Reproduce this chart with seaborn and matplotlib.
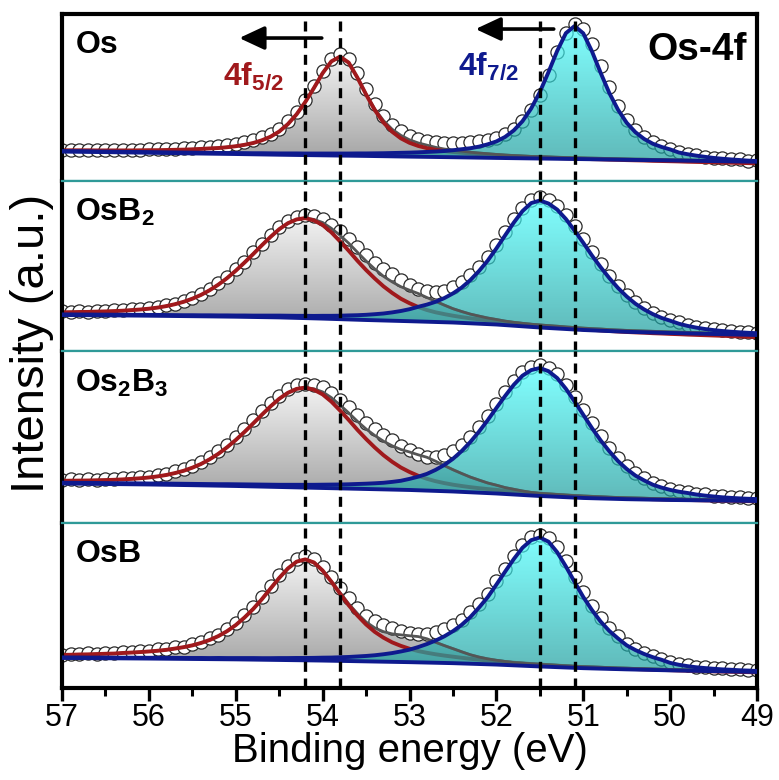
import numpy as np
import matplotlib
matplotlib.use("Agg")
import matplotlib.pyplot as plt
import seaborn as sns
from matplotlib.colors import LinearSegmentedColormap
from matplotlib.patches import Polygon
from matplotlib.ticker import MultipleLocator

# ---------------- data (intensities in arbitrary units) ----------------
energy = np.round(np.arange(570, 489, -1) / 10.0, 1)      # 57.0 ... 49.0 eV (measurement grid)
energy_bg = np.round(np.arange(570, 489, -5) / 10.0, 1)   # background sampling 57.0 ... 49.0

sample_labels = [r"$\mathbf{Os}$", r"$\mathbf{OsB_2}$", r"$\mathbf{Os_2B_3}$", r"$\mathbf{OsB}$"]
shift_lines = [54.2, 53.8, 51.5, 51.1]

# --- Os ---
os_data = [31.0, 31.4, 30.9, 31.3, 31.0, 31.3, 30.8, 31.2, 31.5, 31.1,
           31.6, 31.9, 31.8, 32.4, 32.6, 33.2, 33.8, 34.5, 35.3, 36.2,
           37.4, 39.0, 41.0, 43.6, 47.0, 52.5, 60.0, 69.5, 81.0, 95.0,
           110.5, 122.5, 127.5, 122.0, 108.0, 92.0, 77.0, 65.0, 56.5, 50.0,
           45.5, 42.0, 40.0, 38.6, 37.8, 37.6, 38.3, 38.6, 39.6, 41.0,
           43.5, 47.0, 52.0, 60.0, 71.5, 86.0, 105.7, 128.7, 148.3, 156.8,
           152.0, 137.0, 115.3, 94.0, 75.2, 61.1, 51.0, 43.8, 38.6, 35.0,
           32.0, 29.3, 27.0, 25.6, 24.5, 23.2, 22.9, 21.7, 21.6, 20.5, 20.6]
os_f52 = [30.7, 30.7, 30.7, 30.7, 30.6, 30.6, 30.6, 30.6, 30.6, 30.7,
          30.8, 30.8, 31.0, 31.2, 31.4, 31.7, 32.1, 32.6, 33.0, 33.8,
          34.8, 36.2, 38.0, 40.7, 44.3, 49.5, 56.9, 66.7, 79.0, 93.1,
          107.9, 119.6, 124.4, 118.4, 103.4, 86.5, 71.0, 58.5, 49.3, 42.7,
          38.2, 35.1, 32.9, 31.2, 30.0, 29.1, 28.3, 27.5, 26.8, 26.3,
          25.7, 25.2, 24.9, 24.5, 24.1, 23.8, 23.4, 23.0, 22.7, 22.4,
          22.2, 21.9, 21.7, 21.4, 21.2, 20.9, 20.7, 20.5, 20.2, 20.0,
          19.8, 19.6, 19.3, 19.1, 18.9, 18.7, 18.5, 18.3, 18.1, 17.9, 17.6]
os_f72 = [29.9, 29.8, 29.8, 29.7, 29.5, 29.4, 29.3, 29.2, 29.1, 29.0,
          28.9, 28.8, 28.7, 28.6, 28.5, 28.4, 28.3, 28.2, 28.1, 28.0,
          28.0, 27.9, 27.8, 27.8, 27.7, 27.6, 27.6, 27.6, 27.5, 27.5,
          27.5, 27.5, 27.5, 27.5, 27.6, 27.6, 27.7, 27.8, 28.0, 28.2,
          28.4, 28.7, 29.1, 29.5, 30.0, 30.8, 31.8, 32.8, 34.4, 36.7,
          39.6, 44.1, 50.6, 59.8, 72.5, 89.0, 109.0, 130.2, 147.9, 155.0,
          147.7, 129.7, 108.2, 88.0, 71.3, 58.2, 48.8, 42.1, 37.3, 34.1,
          31.6, 28.5, 26.8, 25.4, 24.2, 23.1, 22.3, 21.6, 21.0, 20.4, 20.0]
os_tail = [30.7, 30.7, 30.7, 30.7, 30.6, 30.6, 30.6, 30.6, 30.6, 30.7,
           30.8, 30.8, 31.0, 31.2, 31.4, 31.7, 32.1, 32.6, 33.0, 33.8,
           34.8, 36.2, 38.0, 40.7, 44.3, 49.5, 56.9, 66.7, 79.0, 93.1,
           107.9, 119.6, 124.4, 118.4, 103.4, 87.0, 72.0, 60.5, 51.8, 45.7,
           41.2, 38.1, 35.9, 33.7, 32.0, 30.9, 29.9, 28.8, 28.0, 27.3,
           26.6, 26.0, 25.5, 25.0, 24.6, 24.4, 24.1, 23.8, 23.5, 23.3,
           23.1, 22.9, 22.7, 22.5, 22.3, 22.1, 21.9, 21.8, 21.6, 21.5,
           21.3, 21.1, 21.0, 20.8, 20.7, 20.5, 20.3, 20.2, 20.0, 19.9, 19.7]
os_bg = [29.5, 28.9, 28.3, 27.6, 27.0, 26.3, 25.7, 25.1, 24.4, 23.8, 23.1, 22.5, 21.9, 21.2, 20.6, 19.9, 19.3]

# --- OsB2 ---
osb2_data = [39.6, 39.2, 39.9, 39.5, 40.3, 40.1, 40.9, 41.0, 41.9, 42.1,
             43.4, 44.0, 46.1, 47.5, 50.5, 53.0, 57.4, 61.6, 67.9, 74.3,
             81.9, 89.4, 98.9, 107.5, 116.4, 123.9, 130.3, 133.9, 135.8, 134.6,
             131.9, 126.3, 119.8, 112.3, 103.9, 95.6, 88.5, 82.0, 77.0, 71.0,
             66.2, 62.0, 59.6, 59.4, 60.5, 64.0, 68.9, 75.6, 84.1, 94.0,
             106.0, 118.9, 131.8, 143.4, 151.3, 153.6, 150.8, 145.0, 136.0, 124.6,
             112.0, 99.0, 86.8, 75.4, 65.0, 56.3, 48.9, 43.1, 38.2, 34.2,
             31.2, 28.6, 25.9, 24.5, 22.7, 21.9, 20.6, 20.3, 19.3, 19.1, 18.3]
osb2_f52 = [38.7, 38.8, 39.0, 39.1, 39.4, 39.6, 39.9, 40.3, 40.9, 41.5,
            42.3, 43.4, 44.9, 46.8, 49.2, 52.3, 56.1, 60.8, 66.4, 72.9,
            80.3, 88.4, 96.9, 105.7, 114.1, 121.8, 127.8, 131.6, 132.9, 130.6,
            126.0, 118.7, 109.7, 100.3, 90.3, 81.0, 72.5, 64.7, 58.1, 52.3,
            47.8, 44.0, 41.0, 38.7, 36.9, 35.3, 33.9, 32.7, 31.7, 30.7,
            29.9, 28.8, 27.9, 27.0, 26.1, 25.3, 24.5, 23.8, 23.1, 22.4,
            21.7, 21.2, 20.6, 20.0, 19.5, 19.0, 18.6, 18.3, 17.8, 17.5,
            17.1, 16.8, 16.4, 16.1, 15.8, 15.5, 15.2, 14.9, 14.5, 14.2, 13.9]
osb2_f72 = [36.6, 36.6, 36.5, 36.5, 36.4, 36.4, 36.3, 36.3, 36.2, 36.2,
            36.1, 36.1, 36.0, 35.9, 35.8, 35.8, 35.7, 35.7, 35.6, 35.6,
            35.5, 35.5, 35.4, 35.4, 35.4, 35.4, 35.3, 35.2, 35.2, 35.1,
            35.2, 35.2, 35.3, 35.6, 35.8, 36.2, 36.8, 37.5, 38.6, 40.0,
            41.8, 44.2, 46.4, 49.2, 52.9, 57.6, 63.4, 70.9, 80.0, 90.4,
            102.6, 115.6, 128.4, 139.9, 147.9, 150.5, 147.5, 141.4, 132.0, 120.4,
            108.2, 95.5, 83.8, 72.9, 63.0, 54.5, 47.3, 41.6, 36.9, 33.1,
            30.3, 27.3, 25.1, 23.4, 22.0, 20.9, 20.0, 19.3, 18.7, 18.2, 17.8]
osb2_tail = [38.7, 38.8, 39.0, 39.1, 39.4, 39.6, 39.9, 40.3, 40.9, 41.5,
             42.3, 43.4, 44.9, 46.8, 49.2, 52.3, 56.1, 60.8, 66.4, 72.9,
             80.3, 88.4, 96.9, 105.7, 114.1, 121.8, 127.8, 131.6, 132.9, 131.6,
             128.5, 122.7, 115.7, 107.8, 98.8, 90.0, 82.0, 74.7, 69.1, 64.3,
             60.8, 57.5, 53.5, 49.7, 45.9, 42.3, 39.5, 36.9, 34.9, 33.0,
             31.5, 29.9, 28.7, 27.7, 26.8, 26.1, 25.4, 24.8, 24.1, 23.5,
             22.9, 22.4, 22.0, 21.4, 21.0, 20.6, 20.3, 20.0, 19.7, 19.4,
             19.1, 18.9, 18.6, 18.4, 18.1, 17.9, 17.6, 17.4, 17.2, 17.0, 16.7]
osb2_bg = [36.0, 35.7, 35.3, 34.8, 34.3, 33.6, 32.4, 31.0, 29.8, 28.5, 26.5, 23.5, 21.0, 19.2, 18.0, 17.0, 16.0]

# --- Os2B3 ---
os2b3_data = [42.6, 43.5, 42.9, 43.7, 43.4, 44.2, 43.9, 44.9, 45.0, 46.1,
              46.3, 48.2, 49.0, 51.6, 53.9, 57.2, 61.0, 66.0, 71.6, 78.4,
              86.0, 94.2, 102.9, 111.5, 120.0, 127.4, 133.5, 137.6, 139.0, 138.3,
              135.5, 130.2, 123.0, 115.8, 107.6, 100.2, 94.0, 88.0, 82.5, 77.0,
              72.6, 68.7, 66.3, 66.4, 68.2, 72.0, 78.3, 86.2, 95.6, 106.5,
              118.5, 130.6, 141.9, 150.8, 156.1, 157.9, 155.0, 148.6, 138.4, 126.0,
              112.9, 99.5, 86.8, 75.3, 65.0, 56.6, 49.6, 44.5, 39.8, 36.9,
              34.4, 32.1, 31.2, 29.2, 28.6, 27.1, 26.8, 25.6, 25.7, 24.7, 24.9]
os2b3_f52 = [42.2, 42.3, 42.4, 42.5, 42.7, 42.9, 43.2, 43.6, 44.1, 44.7,
             45.5, 46.6, 48.0, 49.9, 52.2, 55.3, 59.0, 63.7, 69.2, 75.7,
             83.0, 91.0, 99.5, 108.2, 116.6, 124.2, 130.2, 134.1, 135.4, 133.2,
             128.6, 121.4, 112.5, 103.1, 93.2, 84.0, 75.5, 67.8, 61.2, 55.5,
             51.0, 47.2, 44.2, 41.8, 39.9, 38.3, 37.0, 35.8, 34.8, 33.9,
             33.1, 32.2, 31.5, 30.7, 29.9, 29.3, 28.7, 28.1, 27.5, 27.0,
             26.5, 26.1, 25.7, 25.2, 24.9, 24.6, 24.4, 24.1, 23.8, 23.6,
             23.4, 23.2, 23.0, 22.8, 22.6, 22.5, 22.3, 22.2, 22.0, 21.8, 21.7]
os2b3_f72 = [40.3, 40.2, 40.1, 40.1, 40.0, 39.9, 39.8, 39.8, 39.7, 39.6,
             39.5, 39.5, 39.4, 39.3, 39.2, 39.1, 39.0, 38.9, 38.8, 38.8,
             38.7, 38.6, 38.5, 38.4, 38.3, 38.2, 38.2, 38.2, 38.2, 38.2,
             38.3, 38.4, 38.5, 38.7, 39.0, 39.3, 39.7, 40.2, 41.1, 42.2,
             44.1, 46.3, 49.1, 53.1, 58.0, 64.2, 71.9, 81.0, 91.4, 102.8,
             115.0, 127.0, 138.2, 147.3, 152.9, 155.0, 151.8, 144.9, 134.2, 121.5,
             108.2, 94.9, 82.6, 71.7, 61.9, 54.0, 47.4, 42.6, 38.3, 35.4,
             33.1, 31.3, 30.0, 28.5, 27.4, 26.5, 25.7, 25.1, 24.6, 24.2, 23.9]
os2b3_tail = [42.2, 42.3, 42.4, 42.5, 42.7, 42.9, 43.2, 43.6, 44.1, 44.7,
              45.5, 46.6, 48.0, 49.9, 52.2, 55.3, 59.0, 63.7, 69.2, 75.7,
              83.0, 91.0, 99.5, 108.2, 116.6, 124.2, 130.2, 134.1, 135.4, 134.2,
              131.1, 125.4, 118.0, 110.1, 101.7, 94.0, 87.5, 81.8, 77.2, 73.5,
              71.0, 68.2, 65.7, 61.8, 57.4, 53.3, 49.5, 45.9, 42.9, 40.0,
              37.8, 35.4, 33.7, 32.0, 30.6, 29.6, 29.0, 28.5, 27.9, 27.4,
              26.9, 26.6, 26.2, 25.8, 25.5, 25.2, 25.0, 24.8, 24.5, 24.3,
              24.1, 24.0, 23.8, 23.7, 23.5, 23.4, 23.2, 23.1, 23.0, 22.9, 22.7]
os2b3_bg = [39.5, 39.0, 38.5, 37.8, 37.0, 36.0, 35.0, 34.0, 33.0, 31.5, 29.5, 27.0, 25.0, 23.8, 23.0, 22.5, 22.0]

# --- OsB ---
osb_data = [33.2, 34.2, 33.7, 34.6, 34.1, 35.3, 34.8, 36.1, 35.9, 37.0,
            37.0, 38.6, 38.7, 40.8, 41.4, 44.1, 45.8, 49.6, 52.8, 58.5,
            64.6, 72.5, 81.2, 91.0, 102.0, 112.6, 122.3, 129.2, 131.8, 129.0,
            121.4, 111.2, 100.3, 89.5, 80.2, 72.0, 66.8, 63.2, 60.0, 57.0,
            55.0, 53.7, 54.2, 55.6, 58.6, 62.8, 68.4, 75.5, 84.4, 94.3,
            106.5, 119.3, 131.9, 143.0, 150.7, 153.4, 150.2, 140.6, 127.0, 111.3,
            96.0, 82.0, 69.8, 59.6, 51.5, 44.3, 39.4, 35.2, 32.1, 29.0,
            26.2, 23.8, 22.9, 21.2, 20.9, 19.6, 19.6, 18.6, 18.7, 17.7, 17.9]
osb_f52 = [33.1, 33.2, 33.5, 33.6, 33.9, 34.2, 34.4, 35.0, 35.4, 35.9,
           36.5, 37.2, 38.1, 39.4, 40.8, 42.6, 45.0, 48.0, 51.9, 56.8,
           62.9, 70.4, 78.9, 88.7, 99.4, 110.0, 119.5, 126.3, 128.6, 125.5,
           117.4, 106.3, 94.4, 82.7, 72.5, 63.5, 56.1, 50.3, 45.6, 42.1,
           39.2, 36.9, 35.2, 33.7, 32.4, 31.3, 30.2, 29.2, 28.3, 27.5,
           26.8, 26.0, 25.2, 24.6, 23.9, 23.4, 22.8, 22.3, 21.8, 21.3,
           20.9, 20.5, 20.2, 19.8, 19.5, 19.2, 18.9, 18.6, 18.3, 18.0,
           17.8, 17.5, 17.3, 17.1, 16.9, 16.6, 16.4, 16.2, 16.0, 15.8, 15.6]
osb_f72 = [30.6, 30.5, 30.5, 30.4, 30.4, 30.4, 30.3, 30.3, 30.3, 30.2,
           30.2, 30.2, 30.1, 30.1, 30.0, 30.0, 30.0, 29.9, 30.0, 29.9,
           29.9, 29.9, 29.9, 29.8, 29.8, 29.9, 29.9, 30.0, 30.0, 30.1,
           30.3, 30.4, 30.7, 31.0, 31.5, 32.0, 32.7, 33.7, 34.9, 36.5,
           38.3, 40.9, 43.9, 47.4, 51.6, 56.8, 63.1, 70.9, 80.4, 90.8,
           103.4, 116.3, 128.9, 140.2, 147.8, 150.5, 146.3, 135.7, 121.5, 106.0,
           91.0, 77.9, 66.4, 57.0, 49.5, 42.6, 37.9, 34.0, 30.8, 28.2,
           25.1, 23.2, 21.8, 20.7, 19.9, 19.2, 18.6, 18.2, 17.7, 17.4, 17.0]
osb_tail = [33.1, 33.2, 33.5, 33.6, 33.9, 34.2, 34.4, 35.0, 35.4, 35.9,
            36.5, 37.2, 38.1, 39.4, 40.8, 42.6, 45.0, 48.0, 51.9, 56.8,
            62.9, 70.4, 78.9, 88.7, 99.4, 110.0, 119.5, 126.3, 128.6, 125.5,
            117.4, 106.8, 95.4, 84.2, 74.5, 66.0, 60.1, 56.3, 54.1, 53.1,
            52.2, 51.4, 49.2, 45.7, 42.4, 39.3, 36.2, 33.2, 30.9, 29.1,
            27.7, 26.5, 25.4, 24.8, 24.2, 23.7, 23.2, 22.7, 22.2, 21.7,
            21.3, 21.0, 20.7, 20.4, 20.0, 19.8, 19.5, 19.3, 19.0, 18.8,
            18.5, 18.3, 18.1, 17.9, 17.7, 17.5, 17.4, 17.2, 17.0, 16.8, 16.6]
osb_bg = [30.0, 29.7, 29.4, 29.0, 28.6, 28.0, 27.4, 26.6, 25.8, 24.8, 23.4, 21.5, 19.8, 18.6, 17.6, 16.8, 16.0]

panels = [
    (os_data, os_f52, os_f72, os_tail, os_bg),
    (osb2_data, osb2_f52, osb2_f72, osb2_tail, osb2_bg),
    (os2b3_data, os2b3_f52, os2b3_f72, os2b3_tail, os2b3_bg),
    (osb_data, osb_f52, osb_f72, osb_tail, osb_bg),
]

# ---------------- style ----------------
sns.set_theme(style="white")
plt.rcParams["font.family"] = ["Liberation Sans", "DejaVu Sans"]
plt.rcParams["mathtext.fontset"] = "custom"
plt.rcParams["mathtext.rm"] = "Liberation Sans"
plt.rcParams["mathtext.bf"] = "Liberation Sans:bold"
plt.rcParams["mathtext.it"] = "Liberation Sans:italic"
plt.rcParams["text.color"] = "black"
plt.rcParams["axes.labelcolor"] = "black"

RED = "#A0191C"
BLUE = "#0E1A8E"
TAIL_GRAY = "#555555"
TEAL_SEP = "#2F9A98"
panel_heights = [167, 170, 172, 165]


def gradient_fill(ax, xt, yt, xb, yb, c_top, c_bot, alpha, z):
    verts = list(zip(xt, yt)) + list(zip(xb[::-1], yb[::-1]))
    poly = Polygon(verts, closed=True, fc="none", ec="none")
    ax.add_patch(poly)
    cmap = LinearSegmentedColormap.from_list("g", [c_bot, c_top])
    y0, y1 = min(yb), max(yt)
    grad = np.linspace(0, 1, 256).reshape(-1, 1)
    im = ax.imshow(grad, extent=[57, 49, y0, y1], origin="lower", aspect="auto",
                   cmap=cmap, alpha=alpha, zorder=z, interpolation="bilinear")
    im.set_clip_path(poly)
    return poly


fig, axes = plt.subplots(4, 1, figsize=(7.79, 7.80), dpi=100, sharex=True,
                         gridspec_kw=dict(height_ratios=panel_heights, hspace=0))
fig.subplots_adjust(left=0.0796, right=0.9718, top=0.982, bottom=0.118)

for i, (ax, (data, f52, f72, tail, bg)) in enumerate(zip(axes, panels)):
    # gray 4f5/2 region
    gradient_fill(ax, energy, tail, energy_bg, bg, "#F2F2F2", "#A2A2A2", 1.0, 1)
    # measured points
    sns.scatterplot(x=energy, y=data, ax=ax, s=90, marker="o", color="white",
                    edgecolor="#2A2A2A", linewidth=0.9, legend=False, zorder=1.5)
    ax.collections[-1].set_facecolor("white")
    # tail of gray component (under the red fit line)
    sns.lineplot(x=energy, y=tail, ax=ax, color=TAIL_GRAY, lw=2.0, sort=False, zorder=1.8)
    # 4f5/2 component
    sns.lineplot(x=energy, y=f52, ax=ax, color=RED, lw=2.8, sort=False, zorder=2)
    # cyan 4f7/2 region
    cyan_poly = gradient_fill(ax, energy, f72, energy_bg, bg, "#4AFFFF", "#1A9B9B", 0.7, 3)
    # gray tail visible through the cyan region
    sns.lineplot(x=energy, y=tail, ax=ax, color=TAIL_GRAY, lw=2.0, sort=False, zorder=4)
    ax.lines[-1].set_clip_path(cyan_poly)
    # background and 4f7/2 component
    sns.lineplot(x=energy_bg, y=bg, ax=ax, color=BLUE, lw=2.8, sort=False, zorder=5)
    sns.lineplot(x=energy, y=f72, ax=ax, color=BLUE, lw=2.8, sort=False, zorder=5)
    for xv in shift_lines:
        ax.axvline(xv, color="black", lw=2.4, ls=(0, (3, 2)), zorder=7)

    ax.set_xlim(57, 49)
    ax.set_ylim(0, panel_heights[i])
    ax.set_yticks([])
    ax.set_ylabel("")
    for side in ["left", "right"]:
        ax.spines[side].set_color("black")
        ax.spines[side].set_linewidth(3)
    ax.spines["top"].set_color("black" if i == 0 else TEAL_SEP)
    ax.spines["top"].set_linewidth(3 if i == 0 else 1.6)
    ax.spines["bottom"].set_color("black" if i == 3 else TEAL_SEP)
    ax.spines["bottom"].set_linewidth(3 if i == 3 else 1.6)

    ax.text(0.018, 0.765, sample_labels[i], transform=ax.transAxes, fontsize=23,
            ha="left", va="baseline", color="black", zorder=8)
    if i < 3:
        ax.tick_params(axis="x", which="both", bottom=False, labelbottom=False)

# top panel annotations
ax0 = axes[0]
ax0.text(0.985, 0.725, "Os-4f", transform=ax0.transAxes, fontsize=28, fontweight="bold",
         ha="right", va="baseline", color="black", zorder=8)
ax0.text(55.15, 96, r"$\mathbf{4f_{5/2}}$", fontsize=23, color=RED, ha="left",
         va="baseline", zorder=8)
ax0.text(52.44, 106, r"$\mathbf{4f_{7/2}}$", fontsize=23, color=BLUE, ha="left",
         va="baseline", zorder=8)
arrow_kw = dict(arrowstyle="-|>,head_length=0.9,head_width=0.42", color="black", lw=2.6,
                shrinkA=0, shrinkB=0, mutation_scale=17)
ax0.annotate("", xy=(54.96, 143), xytext=(54.01, 143), arrowprops=arrow_kw, zorder=8)
ax0.annotate("", xy=(52.24, 152), xytext=(51.34, 152), arrowprops=arrow_kw, zorder=8)

# bottom axis
axb = axes[3]
axb.xaxis.set_major_locator(MultipleLocator(1))
axb.xaxis.set_minor_locator(MultipleLocator(0.5))
axb.tick_params(axis="x", which="major", bottom=True, direction="out", length=9,
                width=2.4, labelsize=22, pad=2, colors="black")
axb.tick_params(axis="x", which="minor", bottom=True, direction="out", length=5.5,
                width=2.2, colors="black")
axb.set_xlabel("Binding energy (eV)", fontsize=29, labelpad=-1, color="black")

fig.text(0.041, 0.56, "Intensity (a.u.)", rotation=90, fontsize=34, ha="center",
         va="center", color="black")

fig.savefig("out.png", dpi=100)
